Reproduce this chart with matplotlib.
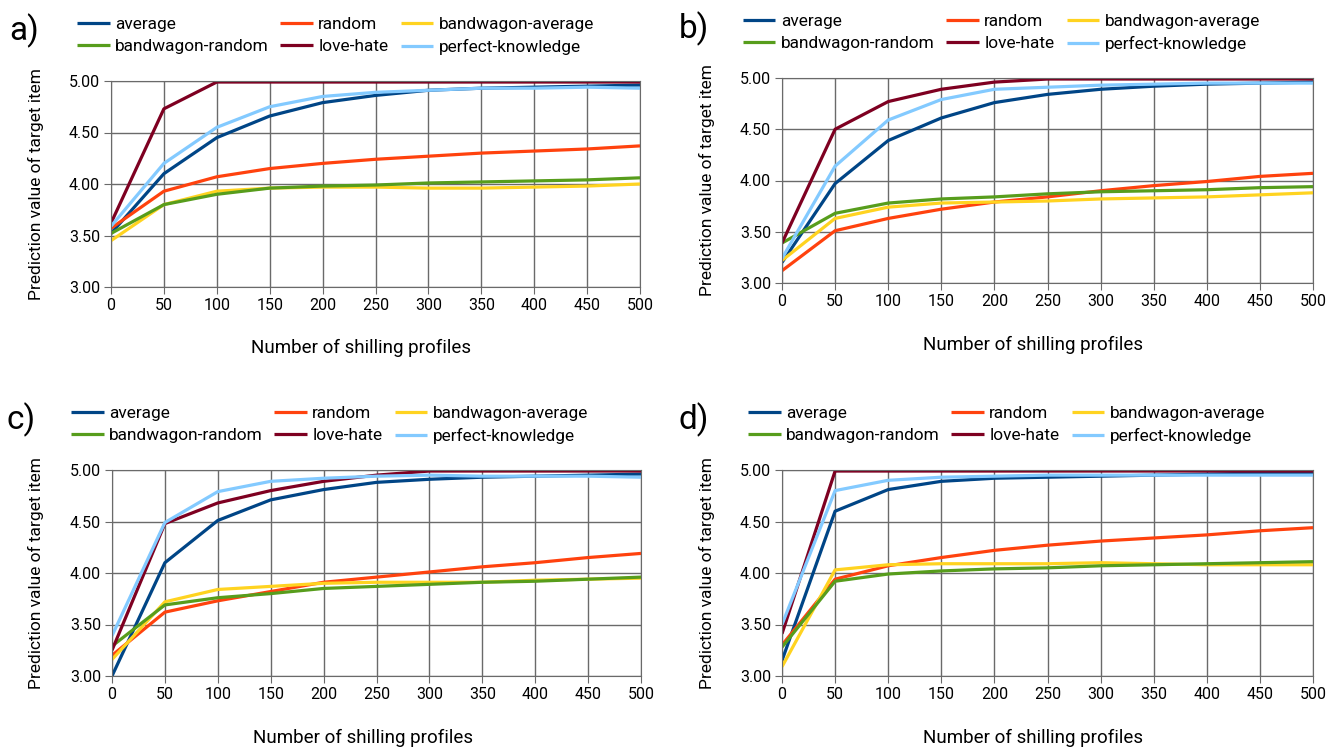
import matplotlib.pyplot as plt
import numpy as np

plt.rcParams['font.family'] = ['Roboto', 'DejaVu Sans']

profiles = [0, 50, 100, 150, 200, 250, 300, 350, 400, 450, 500]
series_names = ['average', 'random', 'bandwagon-average',
                'bandwagon-random', 'love-hate', 'perfect-knowledge']
colors = ['#004586', '#ff420e', '#ffd320', '#579d1c', '#7e0021', '#83caff']

# panel a
a_average = [3.52, 4.10, 4.45, 4.66, 4.79, 4.86, 4.91, 4.93, 4.94, 4.95, 4.96]
a_random = [3.57, 3.93, 4.07, 4.15, 4.20, 4.24, 4.27, 4.30, 4.32, 4.34, 4.37]
a_bw_average = [3.45, 3.80, 3.93, 3.96, 3.97, 3.97, 3.96, 3.96, 3.97, 3.98, 4.00]
a_bw_random = [3.52, 3.80, 3.90, 3.96, 3.98, 3.99, 4.01, 4.02, 4.03, 4.04, 4.06]
a_love_hate = [3.62, 4.73, 4.99, 4.99, 4.99, 4.99, 4.99, 4.99, 4.99, 4.99, 4.99]
a_perfect = [3.59, 4.20, 4.55, 4.75, 4.85, 4.89, 4.91, 4.93, 4.93, 4.94, 4.93]

# panel b
b_average = [3.20, 3.97, 4.39, 4.61, 4.76, 4.84, 4.89, 4.92, 4.94, 4.95, 4.96]
b_random = [3.12, 3.51, 3.63, 3.72, 3.79, 3.84, 3.90, 3.95, 3.99, 4.04, 4.07]
b_bw_average = [3.22, 3.63, 3.74, 3.78, 3.79, 3.80, 3.82, 3.83, 3.84, 3.86, 3.88]
b_bw_random = [3.39, 3.68, 3.78, 3.82, 3.84, 3.87, 3.89, 3.90, 3.91, 3.93, 3.94]
b_love_hate = [3.39, 4.50, 4.77, 4.89, 4.96, 4.99, 4.99, 4.99, 4.99, 4.99, 4.99]
b_perfect = [3.24, 4.14, 4.59, 4.79, 4.89, 4.91, 4.93, 4.94, 4.95, 4.95, 4.95]

# panel c
c_average = [3.00, 4.10, 4.51, 4.71, 4.81, 4.88, 4.91, 4.93, 4.94, 4.95, 4.96]
c_random = [3.20, 3.62, 3.73, 3.82, 3.91, 3.96, 4.01, 4.06, 4.10, 4.15, 4.19]
c_bw_average = [3.16, 3.72, 3.84, 3.87, 3.90, 3.91, 3.91, 3.91, 3.93, 3.94, 3.95]
c_bw_random = [3.29, 3.69, 3.76, 3.80, 3.85, 3.87, 3.89, 3.91, 3.92, 3.94, 3.96]
c_love_hate = [3.25, 4.48, 4.68, 4.80, 4.89, 4.95, 4.99, 4.99, 4.99, 4.99, 4.99]
c_perfect = [3.39, 4.49, 4.79, 4.89, 4.92, 4.94, 4.95, 4.94, 4.94, 4.94, 4.93]

# panel d
d_average = [3.15, 4.60, 4.81, 4.89, 4.92, 4.93, 4.94, 4.95, 4.96, 4.97, 4.97]
d_random = [3.30, 3.94, 4.07, 4.15, 4.22, 4.27, 4.31, 4.34, 4.37, 4.41, 4.44]
d_bw_average = [3.09, 4.03, 4.08, 4.09, 4.09, 4.09, 4.10, 4.09, 4.08, 4.08, 4.08]
d_bw_random = [3.28, 3.92, 3.99, 4.02, 4.04, 4.05, 4.07, 4.08, 4.09, 4.10, 4.11]
d_love_hate = [3.41, 4.99, 4.99, 4.99, 4.99, 4.99, 4.99, 4.99, 4.99, 4.99, 4.99]
d_perfect = [3.50, 4.80, 4.90, 4.93, 4.94, 4.95, 4.95, 4.95, 4.95, 4.95, 4.95]

panels = {
    'a)': [a_average, a_random, a_bw_average, a_bw_random, a_love_hate, a_perfect],
    'b)': [b_average, b_random, b_bw_average, b_bw_random, b_love_hate, b_perfect],
    'c)': [c_average, c_random, c_bw_average, c_bw_random, c_love_hate, c_perfect],
    'd)': [d_average, d_random, d_bw_average, d_bw_random, d_love_hate, d_perfect],
}

W, H = 1340, 751
# pixel positions: plot box (left, top, right, bottom), legend anchor, letter, labels
layout = {
    'a)': dict(box=(111, 81, 640, 287), leg=(63, 3), letter=(9, 31), ylab=36, xlab=(361, 348)),
    'b)': dict(box=(782, 78, 1313, 283), leg=(729, 0), letter=(679, 29), ylab=707, xlab=(1033, 345)),
    'c)': dict(box=(112, 470, 641, 676), leg=(57, 392), letter=(7, 420), ylab=36, xlab=(363, 738)),
    'd)': dict(box=(782, 470, 1313, 676), leg=(734, 392), letter=(679, 420), ylab=707, xlab=(1033, 738)),
}

fig = plt.figure(figsize=(W / 100, H / 100), dpi=100)

# legend fills columns first -> reorder so rows read like the original
leg_order = [0, 3, 1, 4, 2, 5]

for key, data in panels.items():
    lay = layout[key]
    l, t, r, b = lay['box']
    ax = fig.add_axes([l / W, 1 - b / H, (r - l) / W, (b - t) / H])
    lines = []
    for vals, name, c in zip(data, series_names, colors):
        ln, = ax.plot(profiles, vals, color=c, lw=2.3, label=name, solid_capstyle='butt')
        lines.append(ln)
    ax.set_xlim(0, 500)
    ax.set_ylim(3.0, 5.0)
    ax.set_xticks(profiles)
    ax.set_yticks(np.arange(3.0, 5.01, 0.5))
    ax.yaxis.set_major_formatter(plt.FormatStrFormatter('%.2f'))
    ax.grid(True, color='#6a6a6a', lw=1.0)
    ax.set_axisbelow(True)
    for s in ax.spines.values():
        s.set_color('#6a6a6a')
    ax.tick_params(labelsize=11.5, length=5, color='#6a6a6a', pad=3)

    fig.text(lay['letter'][0] / W, 1 - lay['letter'][1] / H, key, fontsize=24,
             va='center', ha='left')
    fig.text(lay['ylab'] / W, 1 - (t + b) / 2 / H, 'Prediction value of target item',
             rotation=90, fontsize=12.5, va='center', ha='center')
    fig.text(lay['xlab'][0] / W, 1 - lay['xlab'][1] / H, 'Number of shilling profiles',
             fontsize=13.5, va='center', ha='center')

    fig.legend([lines[i] for i in leg_order], [series_names[i] for i in leg_order],
               ncol=3, loc='upper left',
               bbox_to_anchor=(lay['leg'][0] / W, 1 - lay['leg'][1] / H),
               frameon=False, fontsize=12.4, handlelength=1.9, handletextpad=0.3,
               columnspacing=0.7, labelspacing=0.4, borderpad=0.3)

fig.savefig('out.png', dpi=100)
